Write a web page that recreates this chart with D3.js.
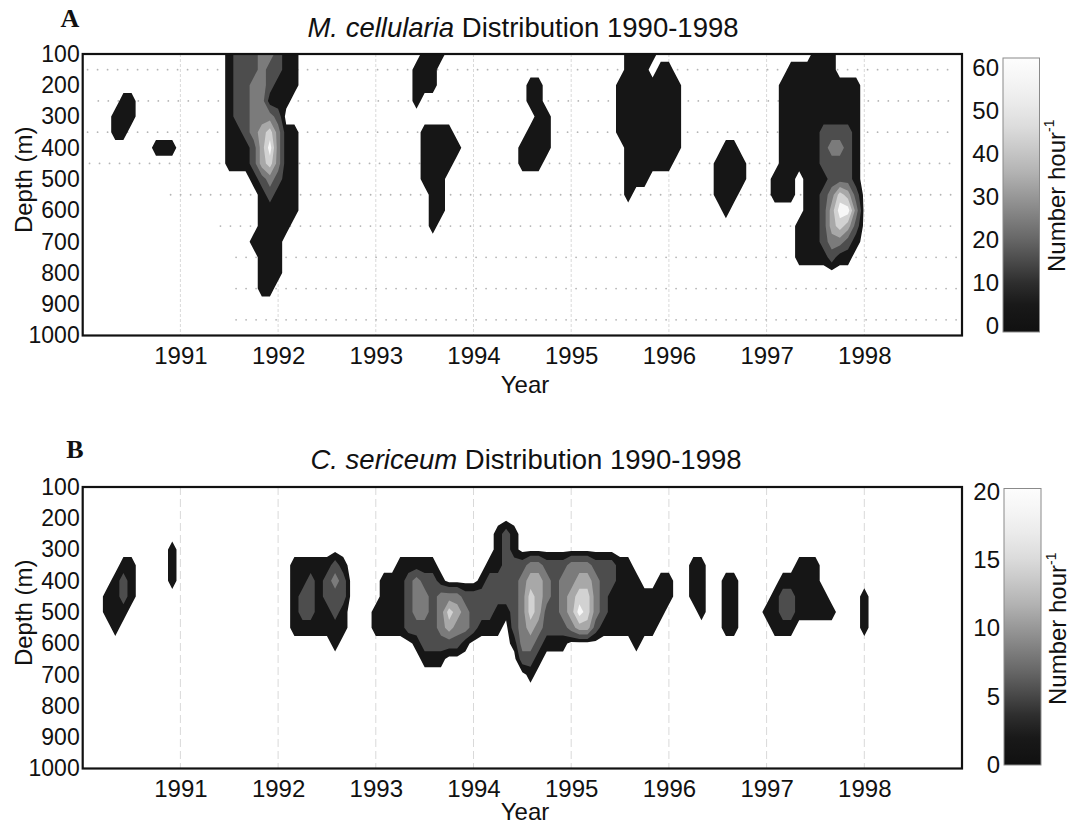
<!DOCTYPE html>
<html>
<head>
<meta charset="utf-8">
<style>
  body { margin: 0; background: #fff; }
  text { font-family: "Liberation Sans", Arial, Helvetica, sans-serif; fill: #111; }
  .letter { font-family: "Liberation Serif", "Times New Roman", serif; font-weight: bold; }
</style>
</head>
<body>
<svg width="1074" height="828"></svg>
<script src="https://cdn.jsdelivr.net/npm/d3@7/dist/d3.min.js"></script>
<script>

// axis ticks
var years = [1991, 1992, 1993, 1994, 1995, 1996, 1997, 1998];
var depthTicks = [100, 200, 300, 400, 500, 600, 700, 800, 900, 1000];

// sampling grid: one column per month (Jan 1990 .. Jan 1999), one row per 50 m
var gridMonths = 109;
var gridDepths = [100, 150, 200, 250, 300, 350, 400, 450, 500, 550, 600, 650, 700, 750, 800, 850, 900, 950, 1000];

// M. cellularia, number hour-1. rows are [first month, level codes]
var mcellLevels = [0, 5, 15, 25, 35, 45, 55];
var mcellThresholds = [2.5, 10, 20, 30, 40, 50];
var mcellColorTicks = [0, 10, 20, 30, 40, 50, 60];
var mcellRows = [
  [[18, "122233211"], [42, "111"], [67, "1111"], [90, "111"]],
  [[18, "122232211"], [41, "111"], [67, "111"], [71, "11"], [87, "111111"]],
  [[18, "122332111"], [41, "111"], [55, "11"], [66, "11111111"], [86, "1111111111"]],
  [[5, "11"], [18, "12233111"], [41, "1"], [55, "11"], [66, "11111111"], [86, "1111111111"]],
  [[4, "111"], [18, "1223332"], [56, "11"], [66, "11111111"], [86, "1111111111"]],
  [[4, "11"], [18, "112345311"], [42, "1111"], [55, "111"], [66, "11111111"], [86, "1111122221"]],
  [[9, "111"], [18, "111246311"], [42, "11111"], [54, "1111"], [67, "1111111"], [79, "11"], [86, "1111123321"]],
  [[18, "111245311"], [42, "1111"], [54, "111"], [67, "111111"], [78, "1111"], [86, "1111122221"]],
  [[21, "123211"], [42, "111"], [67, "111"], [78, "1111"], [85, "111"], [89, "1112221"]],
  [[22, "12111"], [43, "11"], [67, "1"], [78, "111"], [85, "111"], [89, "1123542"]],
  [[22, "11111"], [43, "11"], [79, "1"], [89, "1124663"]],
  [[22, "1111"], [43, "1"], [88, "11124542"]],
  [[21, "1111"], [88, "11123321"]],
  [[22, "111"], [88, "1111211"]],
  [[22, "111"]],
  [[22, "11"]],
  [],
  [],
  []
];

// C. sericeum, number hour-1
var cserLevels = [0, 1.25, 3.75, 6.25, 8.75, 11.25, 13.75];
var cserThresholds = [0.6, 2.5, 5, 7.5, 10, 12.5];
var cserColorTicks = [0, 5, 10, 15, 20];
var cserRows = [
  [],
  [],
  [],
  [[51, "121"]],
  [[11, "1"], [51, "121"]],
  [[5, "11"], [11, "1"], [26, "1111121"], [39, "11111"], [50, "112223322233322211"], [75, "11"], [88, "111"]],
  [[4, "121"], [11, "1"], [26, "1121232"], [37, "11123221"], [49, "12222344323344322111"], [71, "11"], [75, "11"], [79, "11"], [86, "11111"]],
  [[3, "1121"], [26, "1221222"], [37, "111233233322222223543234553211111111"], [75, "11"], [79, "11"], [85, "1221111"], [96, "1"]],
  [[3, "111"], [26, "1221121"], [36, "111123323543222112354223465321111111"], [76, "1"], [79, "11"], [84, "112211111"], [96, "1"]],
  [[4, "1"], [26, "1111111"], [36, "1111222234332111"], [53, "234322234421111111"], [79, "11"], [85, "111"], [96, "1"]],
  [[31, "1"], [41, "1222221"], [53, "1332111"], [68, "1"]],
  [[42, "111"], [54, "221"]],
  [[55, "1"]],
  [],
  [],
  [],
  [],
  [],
  []
];

// sampling depths drawn as dotted rows in panel A
var sampleDepths = [150, 250, 350, 450, 550, 650, 750, 850, 950];
var sampleStart = [1990.05, 1990.16, 1990.05, 1990.07, 1990.9, 1991.41, 1991.57, 1991.57, 1991.57];
var sampleEnd = 1998.95;

var bandColors = ["#161616", "#4d4d4d", "#7b7b7b", "#a8a8a8", "#d2d2d2", "#f7f7f7"];
var rampStops = [[0, "#101010"], [0.1, "#191919"], [0.18, "#2e2e2e"], [0.26, "#4b4b4b"], [0.34, "#676767"],
  [0.42, "#808080"], [0.5, "#999"], [0.58, "#b2b2b2"], [0.67, "#c9c9c9"], [0.75, "#dcdcdc"],
  [0.84, "#ebebeb"], [0.92, "#f5f5f5"], [1, "#fdfdfd"]];

var svg = d3.select("svg");
var defs = svg.append("defs");

var x = d3.scaleLinear().domain([1990, 1999]).range([82.7, 962]);
var colYear = d3.scaleLinear().domain([0, gridMonths - 1]).range([1990, 1999]);
var rowDepth = d3.scaleLinear().domain([0, gridDepths.length - 1]).range([gridDepths[0], gridDepths[gridDepths.length - 1]]);

function drawPanel(o) {
    var y = d3.scaleLinear().domain([100, 1000]).range([o.top, o.top + 281.5]);
    var g = svg.append("g");

    defs.append("clipPath").attr("id", "clip-" + o.id)
        .append("rect")
        .attr("x", x(1990)).attr("y", y(100))
        .attr("width", x(1999) - x(1990)).attr("height", y(1000) - y(100));

    // year grid
    g.append("g").selectAll("line")
        .data(years)
        .enter().append("line")
        .attr("x1", function(d) { return x(d); })
        .attr("x2", function(d) { return x(d); })
        .attr("y1", y(100)).attr("y2", y(1000))
        .attr("stroke", "#d9d9d9")
        .attr("stroke-dasharray", o.id == "a" ? "3,2" : "8,4");

    if (o.samples) {
        g.append("g").selectAll("line")
            .data(sampleDepths)
            .enter().append("line")
            .attr("x1", function(d, i) { return x(sampleStart[i]); })
            .attr("x2", x(sampleEnd))
            .attr("y1", function(d) { return y(d); })
            .attr("y2", function(d) { return y(d); })
            .attr("stroke", "#b4b4b4")
            .attr("stroke-width", 1.8)
            .attr("stroke-linecap", "round")
            .attr("stroke-dasharray", "0,10");
    }

    // filled contours
    var values = new Array(gridMonths * gridDepths.length).fill(0);
    o.rows.forEach(function(segs, r) {
        segs.forEach(function(s) {
            s[1].split("").forEach(function(c, i) {
                values[r * gridMonths + s[0] + i] = o.levels[+c];
            });
        });
    });
    var bands = d3.contours()
        .size([gridMonths, gridDepths.length])
        .thresholds(o.thresholds)(values);
    var path = d3.geoPath(d3.geoTransform({
        point: function(px, py) {
            this.stream.point(x(colYear(px - 0.5)), y(rowDepth(py - 0.5)));
        }
    }));
    g.append("g")
        .attr("clip-path", "url(#clip-" + o.id + ")")
        .selectAll("path")
        .data(bands)
        .enter().append("path")
        .attr("d", path)
        .attr("fill", function(d, i) { return bandColors[i]; });

    // frame
    g.append("rect")
        .attr("x", x(1990)).attr("y", y(100))
        .attr("width", x(1999) - x(1990)).attr("height", y(1000) - y(100))
        .attr("fill", "none")
        .attr("stroke", "#111")
        .attr("stroke-width", 2.2);

    var yAxis = g.append("g")
        .attr("transform", "translate(" + x(1990) + ",0)")
        .call(d3.axisLeft(y).tickValues(depthTicks).tickFormat(d3.format("d")).tickSize(0).tickPadding(3));
    yAxis.attr("font-size", 23);
    yAxis.select(".domain").remove();

    var xAxis = g.append("g")
        .attr("transform", "translate(0," + y(1000) + ")")
        .call(d3.axisBottom(x).tickValues(years).tickFormat(d3.format("d")).tickSize(0).tickPadding(11));
    xAxis.attr("font-size", 24);
    xAxis.select(".domain").remove();

    g.append("text")
        .attr("x", 525).attr("y", y(1000) + o.yearGap)
        .attr("text-anchor", "middle")
        .attr("font-size", 24)
        .text("Year");

    g.append("text")
        .attr("transform", "translate(24," + (y(550) - 15) + ") rotate(-90)")
        .attr("text-anchor", "middle")
        .attr("dy", "0.35em")
        .attr("font-size", 24)
        .text("Depth (m)");

    var title = g.append("text")
        .attr("x", o.titleX).attr("y", o.titleY)
        .attr("text-anchor", "middle")
        .attr("font-size", 27.5);
    title.append("tspan").attr("font-style", "italic").text(o.species);
    title.append("tspan").text(" Distribution 1990-1998");

    g.append("text")
        .attr("class", "letter")
        .attr("x", o.letterX).attr("y", o.letterY)
        .attr("text-anchor", "middle")
        .attr("font-size", 26)
        .text(o.letter);

    // colour bar
    var grad = defs.append("linearGradient")
        .attr("id", "ramp-" + o.id)
        .attr("x1", 0).attr("y1", 1).attr("x2", 0).attr("y2", 0);
    grad.selectAll("stop")
        .data(rampStops)
        .enter().append("stop")
        .attr("offset", function(d) { return d[0]; })
        .attr("stop-color", function(d) { return d[1]; });

    g.append("rect")
        .attr("x", o.cb.x).attr("y", o.cb.top)
        .attr("width", o.cb.w).attr("height", o.cb.bottom - o.cb.top)
        .attr("fill", "url(#ramp-" + o.id + ")")
        .attr("stroke", "#8a8a8a")
        .attr("stroke-width", 1);

    var c = d3.scaleLinear()
        .domain([0, o.colorTicks[o.colorTicks.length - 1]])
        .range([o.cb.labelBottom, o.cb.labelTop]);
    var cAxis = g.append("g")
        .attr("transform", "translate(" + (o.cb.x - 1) + ",0)")
        .call(d3.axisLeft(c).tickValues(o.colorTicks).tickSize(0).tickPadding(3));
    cAxis.attr("font-size", 24);
    cAxis.select(".domain").remove();

    var unit = g.append("text")
        .attr("transform", "translate(" + (o.cb.x + o.cb.w + 17) + "," + (y(550) + 1) + ") rotate(-90)")
        .attr("text-anchor", "middle")
        .attr("dy", "0.35em")
        .attr("font-size", 24);
    unit.append("tspan").text("Number hour");
    unit.append("tspan").attr("font-size", 14).attr("dy", "-0.75em").text("-1");
}

drawPanel({
    id: "a", top: 54, rows: mcellRows, levels: mcellLevels, thresholds: mcellThresholds,
    colorTicks: mcellColorTicks, samples: true, yearGap: 57,
    species: "M. cellularia", titleX: 523, titleY: 37, letter: "A", letterX: 70, letterY: 27,
    cb: {x: 1003, w: 36.5, top: 58, bottom: 332, labelBottom: 326, labelTop: 68}
});

drawPanel({
    id: "b", top: 487, rows: cserRows, levels: cserLevels, thresholds: cserThresholds,
    colorTicks: cserColorTicks, samples: false, yearGap: 51,
    species: "C. sericeum", titleX: 526, titleY: 469, letter: "B", letterX: 75, letterY: 458,
    cb: {x: 1004, w: 37, top: 488.5, bottom: 765, labelBottom: 765, labelTop: 491.5}
});

</script>
</body>
</html>
